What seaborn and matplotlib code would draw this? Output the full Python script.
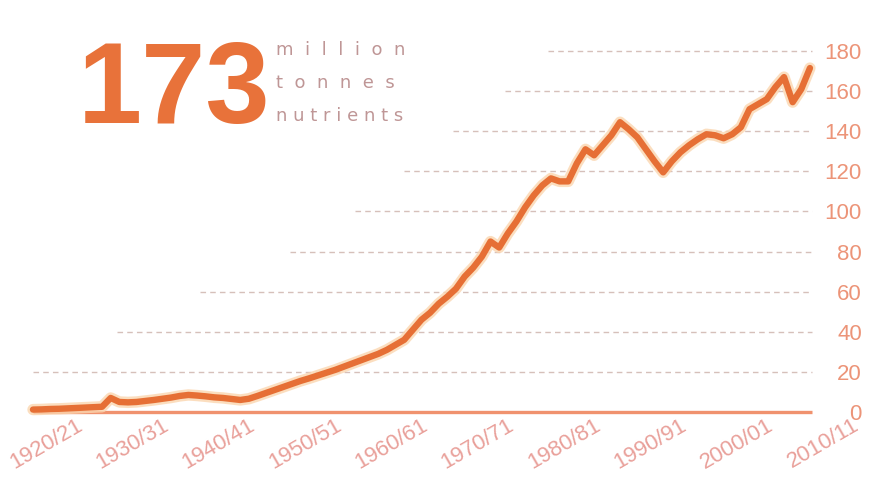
import matplotlib
matplotlib.use("Agg")
import matplotlib.pyplot as plt
import matplotlib.patheffects as pe
import matplotlib.transforms as mtransforms
import pandas as pd
import seaborn as sns

# World fertilizer consumption, million tonnes of nutrients, by season start year
years = list(range(1920, 2011))
consumption = [
    1.2, 1.3, 1.5, 1.6, 1.8, 2.0, 2.2, 2.4, 2.6, 7.0,    # 1920-1929
    5.0, 4.8, 5.0, 5.5, 6.0, 6.6, 7.2, 8.0, 8.5, 8.2,    # 1930-1939
    7.8, 7.3, 7.0, 6.5, 6.0, 6.6, 8.0, 9.5, 11.0, 12.5,  # 1940-1949
    14.0, 15.5, 16.8, 18.2, 19.6, 21.0, 22.6, 24.2, 25.8, 27.4,  # 1950-1959
    29.0, 31.0, 33.5, 36.0, 41.0, 46.0, 49.5, 54.0, 57.5, 61.5,  # 1960-1969
    67.5, 72.0, 77.5, 85.0, 82.0, 89.0, 95.0, 102.0, 108.0, 113.0,  # 1970-1979
    116.5, 115.0, 115.0, 124.0, 131.0, 128.0, 133.0, 138.0, 144.5, 141.0,  # 1980-1989
    137.0, 131.0, 125.0, 119.5, 125.0, 129.5, 133.0, 136.0, 138.5, 138.0,  # 1990-1999
    136.5, 138.5, 142.0, 151.0, 153.5, 156.0, 162.0, 167.0, 154.5, 161.0,  # 2000-2009
    171.5,                                                                   # 2010
]

decade_ticks = [1920, 1930, 1940, 1950, 1960, 1970, 1980, 1990, 2000, 2010]
decade_labels = ["1920/21", "1930/31", "1940/41", "1950/51", "1960/61",
                 "1970/71", "1980/81", "1990/91", "2000/01", "2010/11"]
y_ticks = [0, 20, 40, 60, 80, 100, 120, 140, 160, 180]

# reference lines above zero, each starting a little further right (staircase)
grid_levels = [20, 40, 60, 80, 100, 120, 140, 160, 180]
grid_starts = [1920.0, 1929.7, 1939.3, 1949.8, 1957.3, 1963.0, 1968.6, 1974.7, 1979.7]
grid_end = 2010.2

headline = "173"
unit_lines = ["million", "tonnes", "nutrients"]

ORANGE = "#E66F35"
GLOW = "#FBD6B0"
TICK_Y = "#EC9478"
TICK_X = "#E9A09A"
GRID = "#D6C0BA"
UNIT = "#BF9696"

sns.set_theme(style="white")
plt.rcParams["font.family"] = ["Liberation Sans", "DejaVu Sans"]

df = pd.DataFrame({"season": years, "mt": consumption})

fig = plt.figure(figsize=(8.69, 4.79), dpi=100)
fig.patch.set_facecolor("white")
ax = fig.add_axes([0.0181, 0.1399, 0.9338, 0.7745])
ax.set_facecolor("white")

ax.hlines(grid_levels, grid_starts, grid_end, colors=GRID, linewidth=1.0,
          linestyles=(0, (4, 3)), zorder=1)
ax.hlines(0, years[0], grid_end, colors="#F0926E", linewidth=2.4, zorder=2,
          clip_on=False)

sns.lineplot(data=df, x="season", y="mt", ax=ax, color=ORANGE, linewidth=4.6,
             zorder=3, clip_on=False,
             path_effects=[pe.Stroke(linewidth=8.2, foreground=GLOW, alpha=0.8),
                           pe.Normal()])

ax.set_xlim(1918, 2012)
ax.set_ylim(0, 185)
ax.set_xlabel("")
ax.set_ylabel("")

# decade ticks; their slanted labels sit a little right of and below each tick
ax.set_xticks(decade_ticks)
ax.tick_params(axis="x", length=0, labelbottom=False)
label_tf = (mtransforms.blended_transform_factory(ax.transData, ax.transAxes)
            + mtransforms.ScaledTranslation(13 / 100, -3 / 100, fig.dpi_scale_trans))
for yr, txt in zip(decade_ticks, decade_labels):
    ax.text(yr, 0, txt, transform=label_tf, rotation=30, ha="center", va="top",
            color=TICK_X, fontsize=16, clip_on=False)

ax.yaxis.tick_right()
ax.set_yticks(y_ticks)
ax.set_yticklabels([str(v) for v in y_ticks], ha="right", color=TICK_Y,
                   fontsize=16)
ax.tick_params(axis="y", length=0, pad=25)
for s in ax.spines.values():
    s.set_visible(False)
ax.grid(False)

fig.text(78 / 869, 1 - 123 / 479, headline, fontsize=83, fontweight="bold",
         color="#E8723A", ha="left", va="baseline")

spacing = ["  ", "  ", " "]
for i, (word, gap) in enumerate(zip(unit_lines, spacing)):
    fig.text(276 / 869, 1 - (55 + 33 * i) / 479, gap.join(word),
             fontsize=13, color=UNIT, ha="left", va="baseline",
             family=["DejaVu Sans"])

fig.savefig("out.png", dpi=100, facecolor="white")
